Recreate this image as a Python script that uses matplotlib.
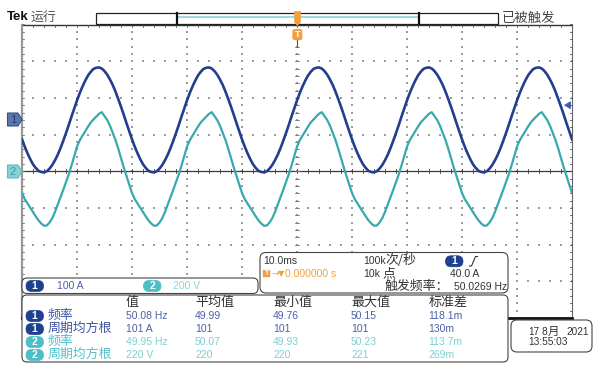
import matplotlib
matplotlib.use('Agg')
import matplotlib.pyplot as plt
from matplotlib.patches import FancyBboxPatch, Rectangle, Polygon
import numpy as np

LATIN = ['Liberation Sans', 'Noto Sans CJK SC', 'DejaVu Sans']
CJK = ['Noto Sans CJK SC', 'DejaVu Sans']
plt.rcParams['font.family'] = LATIN

# ---------------- data ----------------
time_ms = np.arange(-50, 50.5, 0.5)          # 10 ms/div, trigger at centre

ch1_amps = [
    -53, -73, -91, -107, -121, -131, -139, -142, -143, -140, -133, -123, -110, -95, -77, -57, -36, -14, 9, 31,
    53, 73, 91, 107, 121, 131, 139, 142, 143, 140, 133, 123, 110, 95, 77, 57, 36, 14, -9, -31,
    -53, -73, -91, -107, -121, -131, -139, -142, -143, -140, -133, -123, -110, -95, -77, -57, -36, -14, 9, 31,
    53, 73, 91, 107, 121, 131, 139, 142, 143, 140, 133, 123, 110, 95, 77, 57, 36, 14, -9, -31,
    -53, -73, -91, -107, -121, -131, -139, -142, -143, -140, -133, -123, -110, -95, -77, -57, -36, -14, 9, 31,
    53, 73, 91, 107, 121, 131, 139, 142, 143, 140, 133, 123, 110, 95, 77, 57, 36, 14, -9, -31,
    -53, -73, -91, -107, -121, -131, -139, -142, -143, -140, -133, -123, -110, -95, -77, -57, -36, -14, 9, 31,
    53, 73, 91, 107, 121, 131, 139, 142, 143, 140, 133, 123, 110, 95, 77, 57, 36, 14, -9, -31,
    -53, -73, -91, -107, -121, -131, -139, -142, -143, -140, -133, -123, -110, -95, -77, -57, -36, -14, 9, 31,
    53, 73, 91, 107, 121, 131, 139, 142, 143, 140, 133, 123, 110, 95, 77, 57, 36, 14, -9, -31,
    -53,
]

ch2_volts = [
    -118, -152, -175, -199, -223, -246, -268, -285, -297, -296, -280, -256, -222, -182, -141, -101, -59, -17, 31, 82,
    134, 169, 194, 219, 243, 266, 282, 298, 313, 322, 301, 279, 248, 209, 170, 123, 72, 21, -27, -73,
    -118, -152, -175, -199, -223, -246, -268, -285, -297, -296, -280, -256, -222, -182, -141, -101, -59, -17, 31, 82,
    134, 169, 194, 219, 243, 266, 282, 298, 313, 322, 301, 279, 248, 209, 170, 123, 72, 21, -27, -73,
    -118, -152, -175, -199, -223, -246, -268, -285, -297, -296, -280, -256, -222, -182, -141, -101, -59, -17, 31, 82,
    134, 169, 194, 219, 243, 266, 282, 298, 313, 322, 301, 279, 248, 209, 170, 123, 72, 21, -27, -73,
    -118, -152, -175, -199, -223, -246, -268, -285, -297, -296, -280, -256, -222, -182, -141, -101, -59, -17, 31, 82,
    134, 169, 194, 219, 243, 266, 282, 298, 313, 322, 301, 279, 248, 209, 170, 123, 72, 21, -27, -73,
    -118, -152, -175, -199, -223, -246, -268, -285, -297, -296, -280, -256, -222, -182, -141, -101, -59, -17, 31, 82,
    134, 169, 194, 219, 243, 266, 282, 298, 313, 322, 301, 279, 248, 209, 170, 123, 72, 21, -27, -73,
    -118,
]

ch1_scale = 100.0    # A/div
ch1_pos = 1.4        # div
ch2_scale = 200.0    # V/div
ch2_pos = 0.0
trig_level = 40.0    # A on ch1

meas_header = ['值', '平均值', '最小值', '最大值', '标准差']
meas_rows = [
    ('1', '频率', ['50.08 Hz', '49.99', '49.76', '50.15', '118.1m']),
    ('1', '周期均方根', ['101 A', '101', '101', '101', '130m']),
    ('2', '频率', ['49.95 Hz', '50.07', '49.93', '50.23', '113.7m']),
    ('2', '周期均方根', ['220 V', '220', '220', '221', '269m']),
]

C1 = '#253d8e'
C2 = '#37a9ad'
C1_BADGE = '#1f3f8f'
C2_BADGE = '#4cbfc6'
C1_TXT = '#4a60a8'
ORANGE = '#f0a040'

# ---------------- figure ----------------
W, H = 601, 371
fig = plt.figure(figsize=(W / 100, H / 100), dpi=100)
fig.patch.set_facecolor('white')

L, R, T, B = 22, 572, 24.5, 318
ax = fig.add_axes([L / W, 1 - B / H, (R - L) / W, (B - T) / H])
ax.set_xlim(-50, 50)
ax.set_ylim(-4, 4)
ax.axis('off')

px_x = 100.0 / (R - L)   # ms per pixel
px_y = 8.0 / (B - T)     # div per pixel

# graticule dots
gx, gy = [], []
for xd in range(-40, 50, 10):
    for yv in np.arange(-4, 4.01, 0.2):
        gx.append(xd); gy.append(yv)
for yd in range(-3, 4):
    if yd == 0:
        continue
    for xv in np.arange(-50, 50.01, 2):
        gx.append(xv); gy.append(yd)
ax.scatter(gx, gy, s=0.9, marker='s', color='#9c9c9c', linewidths=0, zorder=1)

# centre lines
ax.plot([-50, 50], [0, 0], color='#3a3a3a', lw=0.9, zorder=2)
tk = np.arange(-50, 50.01, 2)
for xv in tk:
    ax.plot([xv, xv], [-2 * px_y, 2 * px_y], color='#3a3a3a', lw=0.6, zorder=2)
for yv in np.arange(-4, 4.01, 0.2):
    ax.plot([-2 * px_x, 2 * px_x], [yv, yv], color='#777777', lw=0.6, zorder=2)

# borders
ax.plot([-50, 50], [4, 4], color='#333333', lw=1.0, zorder=3, clip_on=False)
for xv in tk:
    ax.plot([xv, xv], [4, 4 - 2 * px_y], color='#555555', lw=0.6, zorder=3, clip_on=False)
ax.plot([-50, -50], [-4, 4], color='#999999', lw=1.6, zorder=3, clip_on=False)
ax.plot([50, 50], [-4, 4], color='#666666', lw=0.8, zorder=3, clip_on=False)
for yv in np.arange(-4, 4.01, 0.2):
    ax.plot([50 - 2 * px_x, 50], [yv, yv], color='#555555', lw=0.6, zorder=3, clip_on=False)
    ax.plot([-50, -50 + 2 * px_x], [yv, yv], color='#777777', lw=0.6, zorder=3, clip_on=False)
ax.plot([-50, 50], [-4, -4], color='#111111', lw=2.0, zorder=3, clip_on=False)

# traces
ax.plot(time_ms, np.array(ch1_amps) / ch1_scale + ch1_pos, color=C1, lw=1.9, zorder=5,
        solid_joinstyle='round')
ax.plot(time_ms, np.array(ch2_volts) / ch2_scale + ch2_pos, color=C2, lw=1.6, zorder=4,
        solid_joinstyle='round')

# ---------------- overlay (screen decorations) ----------------
ov = fig.add_axes([0, 0, 1, 1], zorder=10)
ov.set_xlim(0, W)
ov.set_ylim(H, 0)
ov.axis('off')
ov.patch.set_alpha(0)


def txt(x, y, s, size=7.3, color='#333333', fam=LATIN, **kw):
    ov.text(x, y, s, fontsize=size, color=color, family=fam, ha=kw.pop('ha', 'left'),
            va=kw.pop('va', 'center'), **kw)


def rbox(x, y, w, h, r, fc='white', ec='#444444', lw=0.8, z=1):
    ov.add_patch(FancyBboxPatch((x, y), w, h, boxstyle=f'round,pad=0,rounding_size={r}',
                                fc=fc, ec=ec, lw=lw, zorder=z))


def badge(x, y, n, fc):
    rbox(x, y - 5.5, 17.5, 11, 5.5, fc=fc, ec=fc, lw=0.5, z=3)
    txt(x + 8.75, y, n, size=7.5, color='white', ha='center', weight='bold', zorder=4)


# top bar
txt(7, 17, 'Tek', size=9.5, color='#111111', weight='bold')
txt(31, 17, '运行', size=9.3, color='#555555', fam=CJK)
ov.add_patch(Rectangle((96, 12.5), 402, 11, fc='white', ec='#222222', lw=0.9, zorder=2))
ov.plot([177, 419], [17.3, 17.3], color='#8fd0d8', lw=1.2, zorder=3)
ov.plot([177, 177], [12.5, 23.5], color='#111111', lw=1.6, zorder=3)
ov.plot([419, 419], [12.5, 23.5], color='#111111', lw=1.6, zorder=3)
txt(502, 17.5, '已被触发', size=9.6, color='#444444', fam=CJK)

# trigger position marker
ov.add_patch(Polygon([[294.5, 11.5], [300.5, 11.5], [300.5, 22], [297.5, 25.5], [294.5, 22]],
                     closed=True, fc=ORANGE, ec=ORANGE, lw=0.5, zorder=4))
rbox(292.8, 29.3, 9.2, 10.5, 2, fc=ORANGE, ec=ORANGE, lw=0.5, z=4)
txt(297.4, 34.8, 'T', size=6.5, color='white', ha='center', weight='bold', zorder=5)
ov.plot([297.4, 297.4], [40, 47], color='#555555', lw=0.8, zorder=4)

# channel markers
ov.add_patch(Polygon([[7.5, 113], [18, 113], [22, 119.5], [18, 126], [7.5, 126]], closed=True,
                     fc='#5a78aa', ec='#34508a', lw=0.8, zorder=4))
txt(12.8, 119.6, '1', size=8, color='#22356e', ha='center', zorder=5)
ov.add_patch(Polygon([[7.5, 165], [18, 165], [22, 171.5], [18, 178], [7.5, 178]], closed=True,
                     fc='#86d3d6', ec='#5dbcc2', lw=0.8, zorder=4))
txt(12.8, 171.6, '2', size=8, color='#3d9aa0', ha='center', zorder=5)

# trigger level arrow (right)
ty = T + (4 - (trig_level / ch1_scale + ch1_pos)) / px_y
ov.add_patch(Polygon([[564.5, ty], [570.5, ty - 3.5], [570.5, ty + 3.5]], closed=True,
                     fc='#3a5cb0', ec='#3a5cb0', lw=0.5, zorder=4))

# channel scale box
rbox(22, 278, 236, 15.5, 5)
badge(26, 286, '1', C1_BADGE)
txt(57, 286, '100 A', color=C1_TXT, size=7.5)
badge(143.5, 286, '2', C2_BADGE)
txt(173, 286, '200 V', color='#88d4d8', size=7.5)

# timebase box
rbox(260, 252.5, 248, 40.5, 6)
txt(263.5, 261, '10.0ms', size=7.5, color='#333333')
txt(363, 261, '100k', size=7.5, color='#333333')
txt(385.5, 260.5, '次/秒', size=9.3, color='#333333', fam=CJK)
badge(445.5, 261.3, '1', C1_BADGE)
ov.plot([469.5, 471.5, 475.5, 477.5], [266, 266, 256.5, 256.5], color='#333333', lw=0.8, zorder=4)
ov.add_patch(Rectangle((263.3, 269.5), 7, 7.5, fc=ORANGE, ec=ORANGE, lw=0.3, zorder=3))
txt(266.8, 273.4, 'T', size=5, color='white', ha='center', weight='bold', zorder=4)
txt(271, 273.3, '→', size=6.5, color=ORANGE, fam=['DejaVu Sans'])
txt(277.5, 273.3, '▼', size=6, color=ORANGE, fam=['DejaVu Sans'])
txt(285, 274, '0.000000 s', size=7.5, color=ORANGE)
txt(363, 274, '10k', size=7.5, color='#333333')
txt(382.5, 273.5, '点', size=9.3, color='#333333', fam=CJK)
txt(450, 274, '40.0 A', size=7.5, color='#333333')
txt(385, 286.5, '触发频率：', size=9.3, color='#333333', fam=CJK)
txt(454, 287, '50.0269 Hz', size=7.5, color='#333333')

# measurement box
rbox(22, 295, 486, 67, 5)
col_x = [126, 195, 273, 351, 428.5]
for cx, hd in zip(col_x, meas_header):
    txt(cx, 302.5, hd, size=9.4, color='#333333', fam=CJK)
row_y = [316, 329, 342, 355]
for ry, (ch, name, vals) in zip(row_y, meas_rows):
    bc = C1_BADGE if ch == '1' else C2_BADGE
    lc = '#3f56a3' if ch == '1' else '#55c0c8'
    vc = C1_TXT if ch == '1' else '#7dcfd3'
    badge(26, ry, ch, bc)
    txt(47.5, ry - 0.3, name, size=9.3, color=lc, fam=CJK)
    for cx, v in zip(col_x, vals):
        txt(cx, ry + 0.3, v, size=7.5, color=vc)

# date box
rbox(511, 320, 81, 32, 6)
txt(528, 332, '17', size=7.3, color='#333333')
txt(541.5, 332, '8', size=7.3, color='#333333')
txt(548, 331.5, '月', size=8.3, color='#333333', fam=CJK)
txt(566.5, 332, '2021', size=7.2, color='#333333')
txt(528, 342, '13:55:03', size=7.3, color='#333333')

fig.savefig('out.png', dpi=100, facecolor='white')
